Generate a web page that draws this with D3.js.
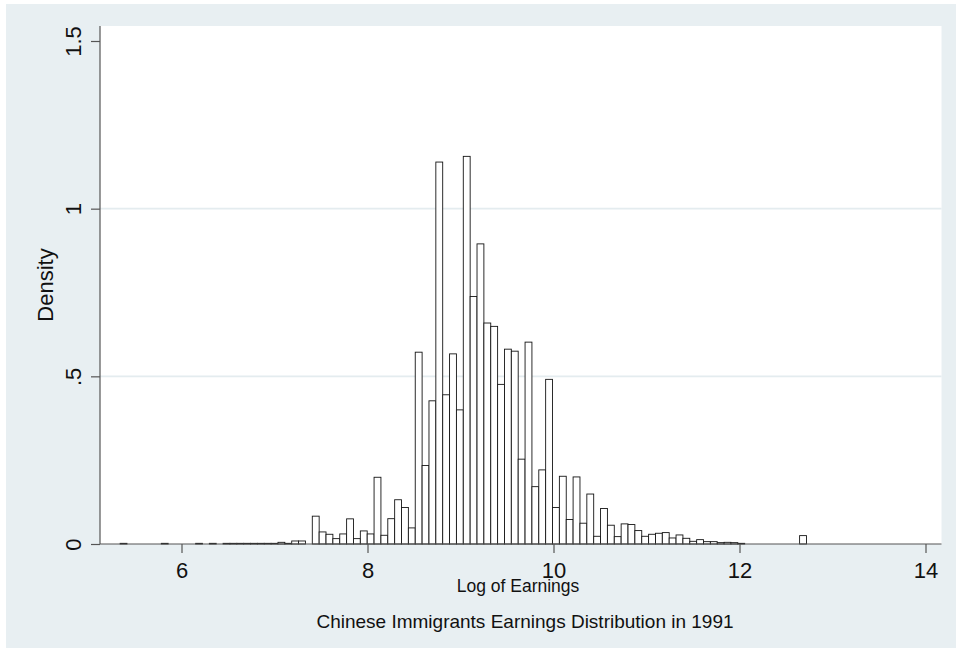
<!DOCTYPE html>
<html>
<head>
<meta charset="utf-8">
<script src="https://cdn.jsdelivr.net/npm/d3@7"></script>
<style>
  html, body { margin: 0; padding: 0; background: #ffffff; }
  svg { display: block; }
  text { font-family: "Liberation Sans", Arial, Helvetica, sans-serif; fill: #111; }
</style>
</head>
<body>
<svg id="chart" width="956" height="650"></svg>
<script>
// Histogram of log earnings, 100 equal-width bins
const binStart = 5.34;
const binWidth = 0.0738;
const density = [
  0.002, 0, 0, 0, 0, 0, 0.002, 0, 0, 0,
  0, 0.002, 0, 0.002, 0, 0.002, 0.002, 0.002, 0.002, 0.002,
  0.002, 0.002, 0.002, 0.005, 0.002, 0.009, 0.009, 0, 0.083, 0.036,
  0.029, 0.016, 0.030, 0.075, 0.016, 0.039, 0.030, 0.199, 0.026, 0.0755,
  0.132, 0.109, 0.048, 0.572, 0.234, 0.427, 1.139, 0.445, 0.567, 0.400,
  1.156, 0.738, 0.895, 0.659, 0.649, 0.476, 0.581, 0.575, 0.253, 0.602,
  0.171, 0.221, 0.491, 0.109, 0.202, 0.073, 0.200, 0.062, 0.149, 0.023,
  0.106, 0.056, 0.022, 0.060, 0.058, 0.040, 0.023, 0.029, 0.032, 0.034,
  0.018, 0.027, 0.017, 0.008, 0.013, 0.007, 0.007, 0.004, 0.005, 0.004,
  0.002, 0, 0, 0, 0, 0, 0, 0, 0, 0.025
];
const xTicks = [6, 8, 10, 12, 14];
const yTicks = [0, 0.5, 1, 1.5];
const yTickLabels = ["0", ".5", "1", "1.5"];
const xTitle = "Log of Earnings";
const yTitle = "Density";
const caption = "Chinese Immigrants Earnings Distribution in 1991";

const bins = density.map((d, i) => ({ x0: binStart + i * binWidth, x1: binStart + (i + 1) * binWidth, d }));

const svg = d3.select("#chart");
const plot = { left: 100, right: 941.5, top: 26, bottom: 544 };

const x = d3.scaleLinear().domain([6, 14]).range([181.5, 925.5]);
const y = d3.scaleLinear().domain([0, 1.5]).range([544, 41]);

// outer graph region
svg.append("rect").attr("x", 6).attr("y", 4).attr("width", 950).attr("height", 644).attr("fill", "#E8EFF2");
// plot region
svg.append("rect").attr("x", plot.left).attr("y", plot.top)
  .attr("width", plot.right - plot.left).attr("height", plot.bottom - plot.top).attr("fill", "#ffffff");

// horizontal grid lines
svg.append("g").selectAll("line").data(yTicks.filter(v => v > 0 && v < 1.5)).join("line")
  .attr("x1", plot.left).attr("x2", plot.right)
  .attr("y1", d => y(d)).attr("y2", d => y(d))
  .attr("stroke", "#E4ECEF").attr("stroke-width", 1.6);

// bars
svg.append("g").selectAll("rect").data(bins.filter(b => b.d > 0)).join("rect")
  .attr("x", b => x(b.x0))
  .attr("width", b => x(b.x1) - x(b.x0))
  .attr("y", b => y(b.d))
  .attr("height", b => y(0) - y(b.d))
  .attr("fill", "#ffffff")
  .attr("stroke", "#151515")
  .attr("stroke-width", 0.9);

// axes
const xAxis = d3.axisBottom(x).tickValues(xTicks).tickFormat(d3.format("d")).tickSize(9).tickPadding(4);
const gx = svg.append("g").attr("transform", `translate(0,${plot.bottom})`).call(xAxis);
gx.select(".domain").attr("d", `M${plot.left},0H${plot.right}`).attr("stroke", "#555").attr("stroke-width", 1.2);
gx.selectAll(".tick line").attr("stroke", "#555").attr("stroke-width", 1.2);
gx.selectAll(".tick text").attr("font-size", 22).attr("font-family", "Liberation Sans, Arial, sans-serif")
  .attr("fill", "#111").attr("dy", null).attr("y", 34);

const yAxis = d3.axisLeft(y).tickValues(yTicks).tickFormat((d, i) => yTickLabels[i]).tickSize(9);
const gy = svg.append("g").attr("transform", `translate(${plot.left},0)`).call(yAxis);
gy.select(".domain").attr("d", `M0,${plot.top}V${plot.bottom}`).attr("stroke", "#555").attr("stroke-width", 1.2);
gy.selectAll(".tick line").attr("stroke", "#555").attr("stroke-width", 1.2);
gy.selectAll(".tick text")
  .attr("font-size", 22).attr("font-family", "Liberation Sans, Arial, sans-serif").attr("fill", "#111")
  .attr("x", null).attr("dy", null).attr("text-anchor", "middle")
  .attr("transform", "translate(-19,0) rotate(-90)");

// axis titles and caption
svg.append("text").attr("transform", "translate(53,285) rotate(-90)")
  .attr("text-anchor", "middle").attr("font-size", 22).text(yTitle);
svg.append("text").attr("x", 518).attr("y", 591.5)
  .attr("text-anchor", "middle").attr("font-size", 17.5).text(xTitle);
svg.append("text").attr("x", 525).attr("y", 627.5)
  .attr("text-anchor", "middle").attr("font-size", 19).text(caption);
</script>
</body>
</html>
